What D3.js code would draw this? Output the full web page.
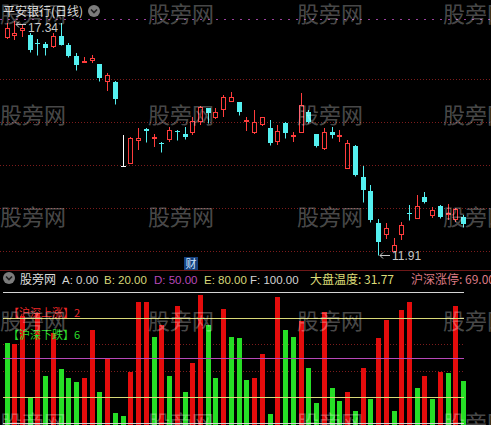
<!DOCTYPE html>
<html>
<head>
<meta charset="utf-8">
<script src="https://cdn.jsdelivr.net/npm/d3@7"></script>
<style>
  html, body { margin: 0; padding: 0; background: #000; }
  svg { display: block; }
</style>
</head>
<body>
<svg id="chart" width="491" height="425"></svg>
<script>
// ---- 平安银行 daily candles (60 sessions) ----
const opens  = [16.94, 16.99, 17.11, 17.02, 16.83, 16.81, 16.74, 16.99, 16.78, 16.53,
                16.39, 16.41, 16.34, 15.92, 15.92, 13.98, 14.02, 14.56, 14.83, 14.63,
                14.51, 14.58, 14.79, 14.72, 14.74, 15.00, 15.32, 15.09, 15.27, 15.46,
                15.46, 15.00, 14.74, 14.93, 14.86, 14.53, 14.97, 14.65, 14.74, 15.23,
                14.72, 14.37, 14.76, 14.65, 13.91, 14.44, 13.72, 13.40, 12.65, 12.37,
                11.98, 12.37, 12.89, 12.75, 13.26, 12.82, 13.05, 12.86, 12.72, 12.79];
const highs  = [17.29, 17.34, 17.25, 17.06, 16.92, 16.85, 17.06, 17.29, 16.83, 16.60,
                16.51, 16.55, 16.34, 16.13, 15.95, 14.70, 14.65, 14.86, 14.86, 14.72,
                14.53, 14.88, 14.81, 14.88, 15.11, 15.37, 15.32, 15.32, 15.62, 15.69,
                15.46, 15.11, 15.27, 15.11, 15.04, 14.93, 15.00, 14.76, 15.67, 15.27,
                14.72, 14.86, 14.88, 14.81, 14.58, 14.46, 13.98, 13.53, 12.75, 12.65,
                12.30, 12.68, 13.07, 13.30, 13.37, 13.02, 13.07, 13.09, 12.99, 12.84];
const lows   = [16.93, 16.90, 16.97, 16.62, 16.55, 16.55, 16.71, 16.78, 16.51, 16.20,
                16.37, 16.37, 15.95, 15.72, 15.41, 13.98, 14.02, 14.35, 14.53, 14.42,
                14.30, 14.53, 14.58, 14.60, 14.70, 14.93, 14.97, 15.07, 15.11, 15.45,
                15.16, 14.79, 14.72, 14.90, 14.46, 14.46, 14.63, 14.53, 14.73, 14.97,
                14.42, 14.35, 14.63, 14.53, 13.90, 13.74, 13.14, 12.68, 11.91, 12.28,
                11.97, 12.26, 12.72, 12.74, 13.12, 12.77, 12.78, 12.72, 12.68, 12.56];
const closes = [17.17, 17.07, 17.18, 16.67, 16.81, 16.71, 16.99, 16.78, 16.53, 16.32,
                16.41, 16.48, 16.02, 16.09, 15.53, 13.98, 14.63, 14.63, 14.79, 14.65,
                14.50, 14.81, 14.76, 14.65, 15.02, 15.34, 15.21, 15.23, 15.58, 15.58,
                15.23, 15.04, 15.00, 15.11, 14.51, 14.79, 14.74, 14.70, 15.39, 15.00,
                14.44, 14.76, 14.70, 14.70, 14.51, 13.77, 13.42, 12.72, 12.21, 12.54,
                12.14, 12.61, 12.86, 13.05, 13.14, 12.95, 12.79, 12.89, 12.98, 12.63];
const priceGrid = [12, 13, 14, 15, 16];

// ---- 股旁网 indicator: market temperature per session ----
const temps = [61, 60, 82, 20, 84, 36, 69, 41, 34, 31,
               34, 71, 24, 50, 8, 5, 39, 92, 92, 66,
               75, 36, 89, 24, 46, 98, 75, 34, 87, 66,
               65, 33, 34, 53, 7, 96, 71, 66, 78, 42,
               15, 85, 27, 17, 24, 9, 42, 18, 65, 79,
               9, 86, 92, 27, 36, 18, 39, 38, 89, 31.77];
// R = red (上涨) bar, G = green (下跌) bar
const tempSide = ["G","R","R","G","R","G","R","G","G","G",
                  "R","R","G","R","G","G","R","R","R","G",
                  "R","G","R","G","R","R","G","G","R","G",
                  "G","G","R","R","G","R","G","G","R","G",
                  "G","R","G","G","R","G","R","G","R","R",
                  "G","R","R","G","R","G","R","G","R","G"];
const levelNames  = ["A", "B", "D", "E", "F"];
const levelValues = [0, 20, 50, 80, 100];
const levelColors = ["#d4d4d4", "#d8d878", "#b848b8", "#d8d878", "#d4d4d4"];
const tempGrid = [40, 60];
const limitUpCount = 69;

const W = 491, H = 425;
const svg = d3.select("#chart");
const n = closes.length;
const idx = d3.range(n);

const x = d3.scalePoint().domain(idx).range([6.5, 463.2]);
const cx = i => Math.round(x(i));
const yP = d3.scaleLinear().domain([11.91, 17.34]).range([255, 21]);
const yT = d3.scaleLinear().domain([0, 100]).range([423, 292]);

const UP = "#ff3c3c", DOWN = "#54f0f0", FLAT = "#ffffff";
const BAR_R = "#e40c0c", BAR_G = "#26de26";
const GRID = "#7c1c1c";
const latin = "'Liberation Sans', Arial, sans-serif";
const cjk = "'Noto Sans CJK SC', 'Liberation Sans', sans-serif";

// ---------- upper panel ----------
const upper = svg.append("g");

upper.append("line")
  .attr("x1", 0).attr("x2", W).attr("y1", 19.5).attr("y2", 19.5)
  .attr("stroke", "#98409a").attr("stroke-dasharray", "2,6");

upper.selectAll("line.pgrid").data(priceGrid).join("line")
  .attr("class", "pgrid")
  .attr("x1", 0).attr("x2", W)
  .attr("y1", d => Math.round(yP(d)) + 0.5).attr("y2", d => Math.round(yP(d)) + 0.5)
  .attr("stroke", GRID).attr("stroke-dasharray", "1,2");

const candles = upper.selectAll("g.candle").data(idx).join("g").attr("class", "candle");
candles.each(function (i) {
  const g = d3.select(this);
  const o = opens[i], c = closes[i], h = highs[i], l = lows[i];
  const xc = cx(i) + 0.5;
  const yo = Math.round(yP(o)), yc = Math.round(yP(c));
  const yh = Math.round(yP(h)), yl = Math.round(yP(l));
  if (c > o) {
    // rising: hollow red body, wick outside the body
    g.append("line").attr("x1", xc).attr("x2", xc).attr("y1", yh).attr("y2", yc)
      .attr("stroke", UP);
    g.append("line").attr("x1", xc).attr("x2", xc).attr("y1", yo).attr("y2", yl)
      .attr("stroke", UP);
    g.append("rect").attr("x", cx(i) - 1.5).attr("y", yc + 0.5)
      .attr("width", 4).attr("height", Math.max(1, yo - yc - 1))
      .attr("fill", "none").attr("stroke", UP);
  } else if (c < o) {
    g.append("line").attr("x1", xc).attr("x2", xc).attr("y1", yh).attr("y2", yl + 0.5)
      .attr("stroke", DOWN);
    g.append("rect").attr("x", cx(i) - 2).attr("y", yo)
      .attr("width", 5).attr("height", Math.max(1, yc - yo))
      .attr("fill", DOWN);
  } else {
    g.append("line").attr("x1", xc).attr("x2", xc).attr("y1", yh).attr("y2", yl)
      .attr("stroke", FLAT);
    g.append("line").attr("x1", cx(i) - 2).attr("x2", cx(i) + 3)
      .attr("y1", yo + 0.5).attr("y2", yo + 0.5).attr("stroke", FLAT);
  }
});

// highest / lowest price markers
const hiIdx = d3.maxIndex(highs), loIdx = d3.minIndex(lows);
function marker(i, price, dy, textDy) {
  const tx = cx(i) + 2, ty = Math.round(yP(price)) + dy + 0.5;
  upper.append("path")
    .attr("d", `M${tx},${ty} L${tx + 10},${ty} M${tx + 3},${ty - 3} L${tx},${ty} L${tx + 3},${ty + 3}`)
    .attr("stroke", "#c8c8c8").attr("fill", "none");
  upper.append("text").attr("x", tx + 12).attr("y", ty + textDy)
    .attr("fill", "#c8c8c8").attr("font-family", latin).attr("font-size", 12)
    .text(price.toFixed(2));
}
marker(hiIdx, highs[hiIdx], 3, 7);
marker(loIdx, lows[loIdx], 0, 4.5);

// title
upper.append("text").attr("x", 3).attr("y", 16)
  .attr("fill", "#d8d8d8").attr("font-family", cjk).attr("font-size", 12)
  .text("平安银行(日线)");
function dropIcon(g, cxI, cyI) {
  g.append("circle").attr("cx", cxI).attr("cy", cyI).attr("r", 6).attr("fill", "#7c7c7c");
  g.append("path").attr("d", `M${cxI - 3},${cyI - 1.5} L${cxI},${cyI + 1.5} L${cxI + 3},${cyI - 1.5}`)
    .attr("stroke", "#1e1e1e").attr("stroke-width", 1.6).attr("fill", "none");
}
dropIcon(upper, 94, 11);

// 财 (financial report) tag
upper.append("rect").attr("x", 184).attr("y", 257).attr("width", 14).attr("height", 13)
  .attr("fill", "#15407e");
upper.append("text").attr("x", 191).attr("y", 268).attr("text-anchor", "middle")
  .attr("fill", "#cfe6ff").attr("font-family", cjk).attr("font-size", 11).text("财");

// panel separator
svg.append("line").attr("x1", 0).attr("x2", W).attr("y1", 270.5).attr("y2", 270.5)
  .attr("stroke", "#6e1818");

// ---------- lower panel ----------
const lower = svg.append("g");

lower.selectAll("line.tgrid").data(tempGrid).join("line")
  .attr("class", "tgrid")
  .attr("x1", 3).attr("x2", 465)
  .attr("y1", d => Math.round(yT(d)) + 0.5).attr("y2", d => Math.round(yT(d)) + 0.5)
  .attr("stroke", GRID).attr("stroke-dasharray", "1,2");

lower.selectAll("rect.bar").data(idx).join("rect")
  .attr("class", "bar")
  .attr("x", i => cx(i) - 2)
  .attr("y", i => Math.round(yT(temps[i])))
  .attr("width", 5)
  .attr("height", i => H - Math.round(yT(temps[i])))
  .attr("fill", i => tempSide[i] === "R" ? BAR_R : BAR_G);

lower.selectAll("line.level").data(d3.range(levelValues.length)).join("line")
  .attr("class", "level")
  .attr("x1", 3).attr("x2", 464)
  .attr("y1", k => Math.round(yT(levelValues[k])) + 0.5)
  .attr("y2", k => Math.round(yT(levelValues[k])) + 0.5)
  .attr("stroke", k => levelColors[k]);

lower.append("text").attr("x", 8).attr("y", 317)
  .attr("fill", "#f02828").attr("font-family", cjk).attr("font-size", 11)
  .text("【沪深上涨】2");
lower.append("text").attr("x", 8).attr("y", 339)
  .attr("fill", "#2ade2a").attr("font-family", cjk).attr("font-size", 11)
  .text("【沪深下跌】6");

// legend row
dropIcon(lower, 9, 278);
const legendY = 284;
lower.append("text").attr("x", 20).attr("y", legendY)
  .attr("fill", "#dcdcdc").attr("font-family", cjk).attr("font-size", 12).text("股旁网");
const levelX = [62, 104, 154, 204, 250];
levelNames.forEach((nm, k) => {
  lower.append("text").attr("x", levelX[k]).attr("y", legendY)
    .attr("fill", levelColors[k]).attr("font-family", latin).attr("font-size", 11.5)
    .text(`${nm}: ${levelValues[k].toFixed(2)}`);
});
lower.append("text").attr("x", 310).attr("y", legendY)
  .attr("fill", "#dcdc78").attr("font-family", cjk).attr("font-size", 12)
  .text(`大盘温度: ${temps[n - 1].toFixed(2)}`);
lower.append("text").attr("x", 411).attr("y", legendY)
  .attr("fill", "#dc7a84").attr("font-family", cjk).attr("font-size", 12)
  .text(`沪深涨停: ${limitUpCount.toFixed(2)}`);

// site watermark
const wmCols = [0, 148, 297, 443];
const wmRows = [22, 123, 225, 329, 431];
const wm = svg.append("g").attr("pointer-events", "none");
wmRows.forEach(ry => wmCols.forEach(rx => {
  wm.append("text").attr("x", rx).attr("y", ry)
    .attr("fill", "#ffffff").attr("fill-opacity", 0.3)
    .attr("font-family", cjk).attr("font-size", 22).text("股旁网");
}));
</script>
</body>
</html>
